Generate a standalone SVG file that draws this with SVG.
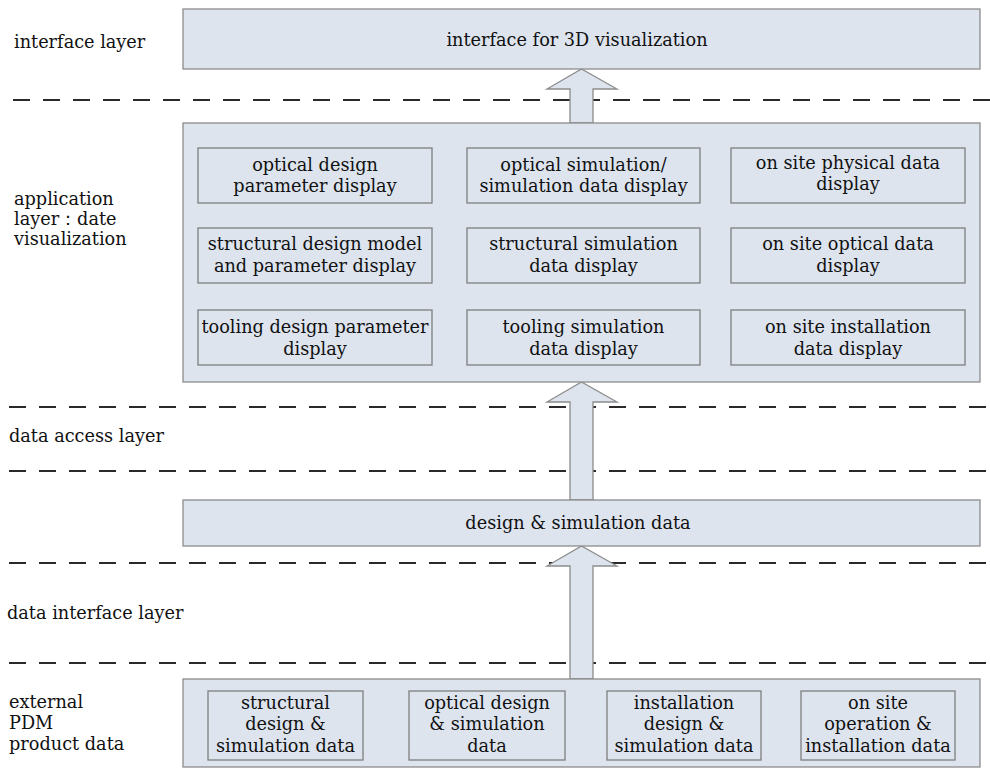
<svg xmlns="http://www.w3.org/2000/svg" width="990" height="769" viewBox="0 0 990 769">
<style>
text{font-family:"DejaVu Serif","Liberation Serif",serif;font-size:17.7px;fill:#111111}
.c{text-anchor:middle}
.box{fill:#dde4ee;stroke:#8c8c8c;stroke-width:1.3}
.inner{fill:#dde4ee;stroke:#7f7f7f;stroke-width:1.3}
.dash{stroke:#2a2a2a;stroke-width:2;stroke-dasharray:17 13;fill:none}
.arrow{fill:#dde4ee;stroke:#8c8c8c;stroke-width:1.3}
</style>
<rect width="990" height="769" fill="#ffffff"/>
<g id="separators">
<line class="dash" x1="13" y1="100" x2="990" y2="100"/>
<line class="dash" x1="9" y1="407" x2="990" y2="407"/>
<line class="dash" x1="9" y1="471" x2="990" y2="471"/>
<line class="dash" x1="9" y1="563" x2="990" y2="563"/>
<line class="dash" x1="9" y1="663" x2="990" y2="663"/>
</g>
<g id="layer-labels">
<text x="14" y="48">interface layer</text>
<text x="14" y="205">application</text>
<text x="14" y="225">layer：date</text>
<text x="14" y="245">visualization</text>
<text x="9" y="442">data access layer</text>
<text x="7" y="619">data interface layer</text>
<text x="9" y="708">external</text>
<text x="9" y="729">PDM</text>
<text x="9" y="750">product data</text>
</g>
<g id="connectors">
<polygon class="arrow" points="570,123 570,89 547,89 581.5,69 617,89 593,89 593,123"/>
<polygon class="arrow" points="570,500 570,402 547,402 581.5,382 617,402 593,402 593,500"/>
<polygon class="arrow" points="570,679 570,566 547,566 581.5,546 617,566 593,566 593,679"/>
</g>
<g id="interface-3d">
<rect class="box" x="183" y="9" width="797" height="60"/>
<text class="c" x="577" y="46">interface for 3D visualization</text>
</g>
<g id="application-layer">
<rect class="box" x="183" y="123" width="797" height="259"/>
</g>
<g id="optical-design-param">
<rect class="inner" x="198" y="148" width="234" height="55"/>
<text class="c" x="315" y="171">optical design</text>
<text class="c" x="315" y="192">parameter display</text>
</g>
<g id="optical-sim-display">
<rect class="inner" x="467" y="148" width="233" height="55"/>
<text class="c" x="583.5" y="171">optical simulation/</text>
<text class="c" x="583.5" y="192">simulation data display</text>
</g>
<g id="onsite-physical">
<rect class="inner" x="731" y="148" width="234" height="55"/>
<text class="c" x="848" y="169">on site physical data</text>
<text class="c" x="848" y="190">display</text>
</g>
<g id="structural-design-model">
<rect class="inner" x="198" y="228" width="234" height="55"/>
<text class="c" x="315" y="250">structural design model</text>
<text class="c" x="315" y="272">and parameter display</text>
</g>
<g id="structural-sim-display">
<rect class="inner" x="467" y="228" width="233" height="55"/>
<text class="c" x="583.5" y="250">structural simulation</text>
<text class="c" x="583.5" y="272">data display</text>
</g>
<g id="onsite-optical">
<rect class="inner" x="731" y="228" width="234" height="55"/>
<text class="c" x="848" y="250">on site optical data</text>
<text class="c" x="848" y="272">display</text>
</g>
<g id="tooling-design-param">
<rect class="inner" x="198" y="310" width="234" height="55"/>
<text class="c" x="315" y="333">tooling design parameter</text>
<text class="c" x="315" y="355">display</text>
</g>
<g id="tooling-sim-display">
<rect class="inner" x="467" y="310" width="233" height="55"/>
<text class="c" x="583.5" y="333">tooling simulation</text>
<text class="c" x="583.5" y="355">data display</text>
</g>
<g id="onsite-installation-display">
<rect class="inner" x="731" y="310" width="234" height="55"/>
<text class="c" x="848" y="333">on site installation</text>
<text class="c" x="848" y="355">data display</text>
</g>
<g id="design-sim-data">
<rect class="box" x="183" y="500" width="797" height="46"/>
<text class="c" x="578" y="529">design &amp; simulation data</text>
</g>
<g id="external-pdm">
<rect class="box" x="183" y="679" width="797" height="88"/>
</g>
<g id="structural-design-sim">
<rect class="inner" x="208" y="691" width="155" height="69"/>
<text class="c" x="285.5" y="709">structural</text>
<text class="c" x="285.5" y="730">design &amp;</text>
<text class="c" x="285.5" y="752">simulation data</text>
</g>
<g id="optical-design-sim">
<rect class="inner" x="409" y="691" width="156" height="69"/>
<text class="c" x="487" y="709">optical design</text>
<text class="c" x="487" y="730">&amp; simulation</text>
<text class="c" x="487" y="752">data</text>
</g>
<g id="installation-design-sim">
<rect class="inner" x="607" y="691" width="154" height="69"/>
<text class="c" x="684" y="709">installation</text>
<text class="c" x="684" y="730">design &amp;</text>
<text class="c" x="684" y="752">simulation data</text>
</g>
<g id="onsite-operation">
<rect class="inner" x="801" y="691" width="154" height="69"/>
<text class="c" x="878" y="709">on site</text>
<text class="c" x="878" y="730">operation &amp;</text>
<text class="c" x="878" y="752">installation data</text>
</g>
</svg>
